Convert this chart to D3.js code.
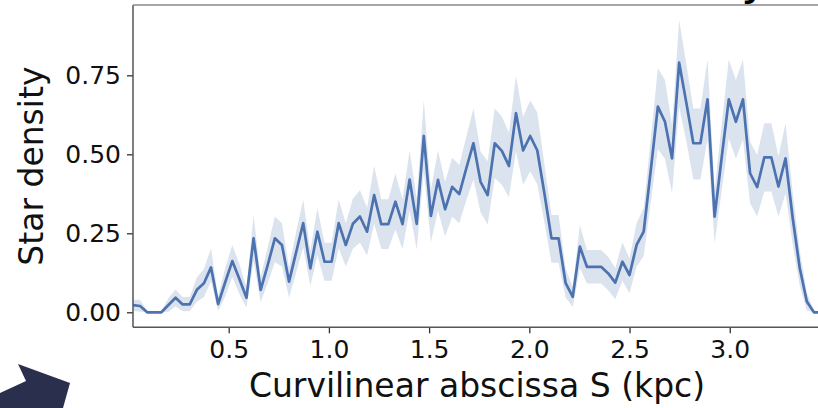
<!DOCTYPE html>
<html>
<head>
<meta charset="utf-8">
<script src="https://cdn.jsdelivr.net/npm/d3@7"></script>
<style>
  html, body { margin: 0; padding: 0; background: #ffffff; }
  svg { display: block; }
  text { font-family: "DejaVu Sans", sans-serif; }
</style>
</head>
<body>
<svg id="chart" width="818" height="408"></svg>
<script>
// ---- data ----
const sStart = 0.0225;          // first bin centre (kpc)
const sStep = 0.03539;          // bin width (kpc)
const density = [
  0.023, 0.020, 0.000, 0.000, 0.000, 0.023, 0.046, 0.025, 0.025, 0.071,
  0.092, 0.142, 0.026, 0.095, 0.162, 0.105, 0.046, 0.234, 0.071, 0.150,
  0.234, 0.213, 0.097, 0.190, 0.282, 0.139, 0.255, 0.160, 0.160, 0.282,
  0.213, 0.280, 0.303, 0.255, 0.371, 0.279, 0.279, 0.350, 0.279, 0.420,
  0.280, 0.558, 0.305, 0.419, 0.326, 0.397, 0.374, 0.456, 0.535, 0.413,
  0.371, 0.535, 0.511, 0.463, 0.630, 0.512, 0.558, 0.512, 0.377, 0.234,
  0.234, 0.092, 0.049, 0.208, 0.144, 0.144, 0.144, 0.123, 0.094, 0.160,
  0.118, 0.213, 0.255, 0.450, 0.651, 0.603, 0.487, 0.790, 0.665, 0.535,
  0.535, 0.674, 0.303, 0.490, 0.674, 0.603, 0.674, 0.440, 0.396, 0.490,
  0.490, 0.398, 0.487, 0.300, 0.140, 0.034, 0.000, 0.000
];
const densityLow = [
  0.004, 0.002, 0.000, 0.000, 0.000, 0.002, 0.018, 0.003, 0.003, 0.033,
  0.048, 0.098, 0.004, 0.050, 0.112, 0.058, 0.015, 0.162, 0.032, 0.093,
  0.158, 0.145, 0.046, 0.126, 0.205, 0.084, 0.180, 0.100, 0.100, 0.203,
  0.145, 0.201, 0.220, 0.180, 0.280, 0.200, 0.200, 0.262, 0.200, 0.323,
  0.198, 0.446, 0.222, 0.322, 0.240, 0.302, 0.282, 0.355, 0.420, 0.317,
  0.277, 0.425, 0.404, 0.364, 0.510, 0.403, 0.446, 0.405, 0.285, 0.157,
  0.157, 0.047, 0.017, 0.140, 0.091, 0.091, 0.091, 0.070, 0.041, 0.100,
  0.060, 0.145, 0.177, 0.349, 0.516, 0.486, 0.377, 0.650, 0.543, 0.420,
  0.420, 0.546, 0.218, 0.385, 0.550, 0.487, 0.546, 0.345, 0.303, 0.382,
  0.382, 0.303, 0.376, 0.218, 0.084, 0.006, 0.000, 0.000
];
const densityHigh = [
  0.040, 0.040, 0.004, 0.000, 0.004, 0.045, 0.072, 0.048, 0.048, 0.110,
  0.137, 0.203, 0.050, 0.140, 0.213, 0.153, 0.078, 0.307, 0.112, 0.207,
  0.303, 0.282, 0.142, 0.255, 0.357, 0.195, 0.330, 0.220, 0.220, 0.357,
  0.282, 0.359, 0.386, 0.331, 0.463, 0.358, 0.358, 0.439, 0.358, 0.512,
  0.360, 0.670, 0.388, 0.513, 0.412, 0.489, 0.466, 0.557, 0.645, 0.509,
  0.478, 0.645, 0.620, 0.568, 0.748, 0.619, 0.670, 0.632, 0.469, 0.308,
  0.308, 0.137, 0.082, 0.276, 0.197, 0.197, 0.197, 0.176, 0.140, 0.222,
  0.170, 0.282, 0.330, 0.551, 0.772, 0.735, 0.592, 0.925, 0.787, 0.645,
  0.645, 0.800, 0.388, 0.595, 0.800, 0.735, 0.800, 0.540, 0.498, 0.598,
  0.598, 0.493, 0.598, 0.382, 0.196, 0.062, 0.005, 0.000
];
const xTicks = [0.5, 1.0, 1.5, 2.0, 2.5, 3.0];
const yTicks = [0.00, 0.25, 0.50, 0.75];
const xLabel = "Curvilinear abscissa S (kpc)";
const yLabel = "Star density";
const titleFragment = "y";

// ---- build ----
const rows = density.map((v, i) => ({
  s: sStart + i * sStep, v: v, lo: densityLow[i], hi: densityHigh[i]
}));

const svg = d3.select("#chart");
const mLeft = 133, mRight = 821, mTop = 5, mBottom = 327.3;

const x = d3.scaleLinear()
  .domain([sStart, sStart + (density.length - 1) * sStep])
  .range([mLeft, mRight]);
const y = d3.scaleLinear().domain([-0.0475, 0.9725]).range([mBottom, mTop]);

const lineColor = "#4c72b0";

svg.append("clipPath").attr("id", "clip")
  .append("rect").attr("x", mLeft).attr("y", mTop)
  .attr("width", mRight - mLeft).attr("height", mBottom - mTop);

const plot = svg.append("g").attr("clip-path", "url(#clip)");

plot.append("path")
  .datum(rows)
  .attr("fill", lineColor)
  .attr("fill-opacity", 0.2)
  .attr("stroke", "none")
  .attr("d", d3.area().x(d => x(d.s)).y0(d => y(d.lo)).y1(d => y(d.hi)));

plot.append("path")
  .datum(rows)
  .attr("fill", "none")
  .attr("stroke", lineColor)
  .attr("stroke-width", 2.7)
  .attr("stroke-linejoin", "round")
  .attr("d", d3.line().x(d => x(d.s)).y(d => y(d.v)));

// axes
const fmtY = d3.format(".2f"), fmtX = d3.format(".1f");
const xAxis = svg.append("g").attr("transform", `translate(0,${mBottom})`)
  .call(d3.axisBottom(x).tickValues(xTicks).tickFormat(fmtX).tickSize(6).tickPadding(7));
const yAxis = svg.append("g").attr("transform", `translate(${mLeft},0)`)
  .call(d3.axisLeft(y).tickValues(yTicks).tickFormat(fmtY).tickSize(6).tickPadding(6));

[xAxis, yAxis].forEach(g => {
  g.select(".domain").remove();
  g.selectAll(".tick line").attr("stroke", "#333").attr("stroke-width", 1.3);
  g.selectAll(".tick text").attr("fill", "#111").style("font-size", "25px");
});
xAxis.selectAll(".tick text").attr("dy", "0.71em");

// spines
const spine = svg.append("g").attr("stroke", "#555").attr("stroke-width", 1.5).attr("fill", "none");
spine.append("line").attr("x1", mLeft).attr("x2", mLeft).attr("y1", mTop).attr("y2", mBottom);
spine.append("line").attr("x1", mLeft).attr("x2", 818).attr("y1", mBottom).attr("y2", mBottom);
spine.append("line").attr("x1", mLeft).attr("x2", 818).attr("y1", mTop).attr("y2", mTop).attr("stroke", "#888");

// axis labels
svg.append("text")
  .attr("x", (mLeft + mRight) / 2).attr("y", 397)
  .attr("text-anchor", "middle").attr("fill", "#111")
  .style("font-size", "33px")
  .text(xLabel);

svg.append("text")
  .attr("transform", `translate(43,${(mTop + mBottom) / 2}) rotate(-90)`)
  .attr("text-anchor", "middle").attr("fill", "#111")
  .style("font-size", "33px")
  .text(yLabel);

// fragment of a cut-off title above the plot
svg.append("text")
  .attr("x", 741).attr("y", -6)
  .attr("fill", "#000")
  .style("font-size", "48px")
  .text(titleFragment);

// dark arrow decoration at the bottom-left corner
const arrowPts = [[0, 393], [26, 381], [18, 364], [70, 383], [63, 408], [0, 408]];
svg.append("path")
  .attr("d", d3.line()(arrowPts) + "Z")
  .attr("fill", "#2b2f4e");
</script>
</body>
</html>
